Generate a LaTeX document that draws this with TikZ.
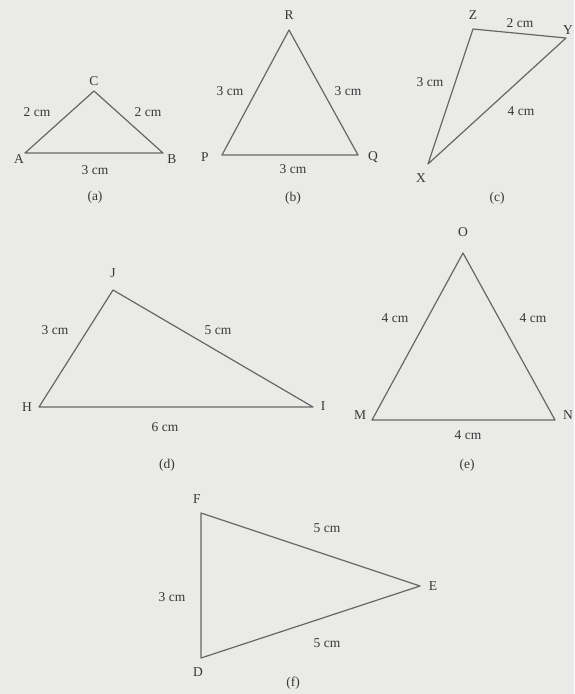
\documentclass[tikz,border=0pt]{standalone}
\usepackage{fontspec}
\setmainfont{Liberation Serif}
\definecolor{bg}{HTML}{EAEAE8}
\definecolor{edge}{HTML}{666666}
\definecolor{ink}{HTML}{363636}
\begin{document}
\begin{tikzpicture}[x=1pt,y=-1pt,
  side/.style={draw=edge,line width=1.2pt,line join=round},
  lbl/.style={text=ink,font=\fontsize{13.5}{13.5}\selectfont,inner sep=0pt},
  figcap/.style={lbl}]
\fill[bg] (0,0) rectangle (574,694);
\useasboundingbox (0,0) rectangle (574,694);
% (a)
\coordinate (A) at (25,153); \coordinate (B) at (163,153); \coordinate (C) at (94,91);
\draw[side] (A) -- (B) -- (C) -- cycle;
\node[lbl] (lA) at (19,159) {A}; \node[lbl] (lB) at (172,159) {B}; \node[lbl] (lC) at (94,81) {C};
\node[lbl] (a1) at (37,112) {2 cm}; \node[lbl] (a2) at (148,112) {2 cm}; \node[lbl] (a3) at (95,170) {3 cm};
\node[figcap] (ca) at (95,197) {(a)};
% (b)
\coordinate (P) at (222,155); \coordinate (Q) at (358,155); \coordinate (R) at (289,30);
\draw[side] (P) -- (Q) -- (R) -- cycle;
\node[lbl] (lP) at (205,157) {P}; \node[lbl] (lQ) at (373,157) {Q}; \node[lbl] (lR) at (289,15) {R};
\node[lbl] (b1) at (230,91) {3 cm}; \node[lbl] (b2) at (348,91) {3 cm}; \node[lbl] (b3) at (293,169) {3 cm};
\node[figcap] (cb) at (293,198) {(b)};
% (c)
\coordinate (X) at (428,164); \coordinate (Y) at (566,38); \coordinate (Z) at (473,29);
\draw[side] (X) -- (Y) -- (Z) -- cycle;
\node[lbl] (lX) at (421,178) {X}; \node[lbl] (lY) at (568,30) {Y}; \node[lbl] (lZ) at (473,15) {Z};
\node[lbl] (c1) at (520,23) {2 cm}; \node[lbl] (c2) at (430,82) {3 cm}; \node[lbl] (c3) at (521,111) {4 cm};
\node[figcap] (cc) at (497,198) {(c)};
% (d)
\coordinate (H) at (39,407); \coordinate (I) at (313,407); \coordinate (J) at (113,290);
\draw[side] (H) -- (I) -- (J) -- cycle;
\node[lbl] (lH) at (27,407) {H}; \node[lbl] (lI) at (323,406) {I}; \node[lbl] (lJ) at (113,273) {J};
\node[lbl] (d1) at (55,330) {3 cm}; \node[lbl] (d2) at (218,330) {5 cm}; \node[lbl] (d3) at (165,427) {6 cm};
\node[figcap] (cd) at (167,465) {(d)};
% (e)
\coordinate (M) at (372,420); \coordinate (N) at (555,420); \coordinate (O) at (463,253);
\draw[side] (M) -- (N) -- (O) -- cycle;
\node[lbl] (lM) at (360,415) {M}; \node[lbl] (lN) at (568,415) {N}; \node[lbl] (lO) at (463,232) {O};
\node[lbl] (e1) at (395,318) {4 cm}; \node[lbl] (e2) at (533,318) {4 cm}; \node[lbl] (e3) at (468,435) {4 cm};
\node[figcap] (ce) at (467,465) {(e)};
% (f)
\coordinate (D) at (201,658); \coordinate (E) at (420,586); \coordinate (F) at (201,513);
\draw[side] (D) -- (E) -- (F) -- cycle;
\node[lbl] (lD) at (198,672) {D}; \node[lbl] (lE) at (433,586) {E}; \node[lbl] (lF) at (197,499) {F};
\node[lbl] (f1) at (327,528) {5 cm}; \node[lbl] (f2) at (172,597) {3 cm}; \node[lbl] (f3) at (327,643) {5 cm};
\node[figcap] (cf) at (293,683) {(f)};
\end{tikzpicture}
\end{document}
